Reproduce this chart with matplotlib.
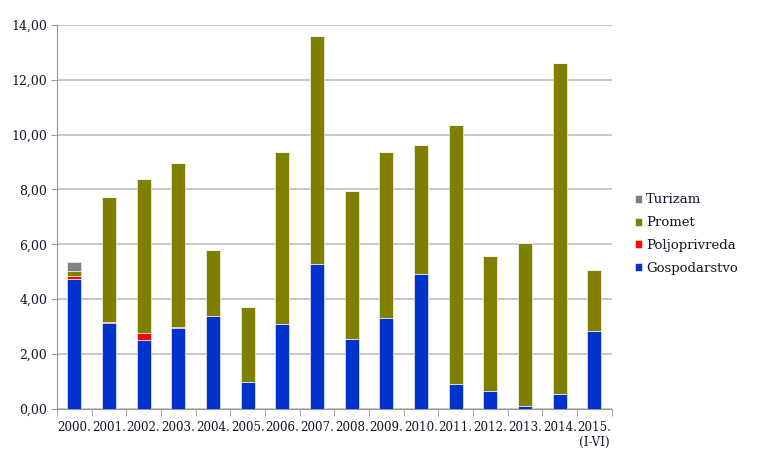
import matplotlib
matplotlib.use("Agg")
import matplotlib.pyplot as plt
import numpy as np

years = ["2000.", "2001.", "2002.", "2003.", "2004.", "2005.", "2006.", "2007.",
         "2008.", "2009.", "2010.", "2011.", "2012.", "2013.", "2014.", "2015.\n(I-VI)"]
gospodarstvo = [4.74, 3.13, 2.50, 2.95, 3.37, 0.99, 3.11, 5.27,
                2.54, 3.33, 4.92, 0.90, 0.67, 0.11, 0.53, 2.84]
poljoprivreda = [0.11, 0.03, 0.27, 0.05, 0.0, 0.0, 0.0, 0.0,
                 0.0, 0.0, 0.0, 0.0, 0.0, 0.0, 0.0, 0.0]
promet = [0.19, 4.55, 5.61, 5.98, 2.42, 2.71, 6.25, 8.34,
          5.39, 6.05, 4.70, 9.45, 4.91, 5.94, 12.07, 2.23]
turizam = [0.32, 0, 0, 0, 0, 0, 0, 0, 0, 0, 0, 0, 0, 0, 0, 0]

series = [
    ("Gospodarstvo", gospodarstvo, "#0033cc"),
    ("Poljoprivreda", poljoprivreda, "#ff0000"),
    ("Promet", promet, "#808000"),
    ("Turizam", turizam, "#808080"),
]

plt.rcParams["font.family"] = ["DejaVu Serif"]
fig = plt.figure(figsize=(7.59, 4.61), dpi=100)
ax = fig.add_axes([0.075, 0.113, 0.731, 0.833])

x = np.arange(len(years))
bottom = np.zeros(len(years))
handles = []
for name, vals, col in series:
    vals = np.array(vals)
    b = ax.bar(x, vals, 0.4, bottom=bottom, color=col, edgecolor="#ffffff",
               linewidth=0.4, label=name, zorder=3)
    handles.append(b)
    bottom += vals

ax.set_xlim(-0.5, len(years) - 0.5)
ax.set_ylim(0, 14)
ax.set_yticks(np.arange(0, 15, 2))
ax.set_yticklabels([f"{v:.2f}".replace(".", ",") for v in np.arange(0, 15, 2)],
                   fontsize=9, color="#141428")
ax.yaxis.grid(True, color="#bfbfbf", linewidth=1.2, zorder=0)

ax.set_xticks(x)
ax.set_xticklabels(years, fontsize=8.6, color="#141428")
ax.tick_params(axis="x", length=0, pad=9)
ax.set_xticks(np.arange(-0.5, len(years), 1), minor=True)
ax.tick_params(axis="x", which="minor", length=5, color="#999999")
ax.tick_params(axis="y", length=4, color="#999999", pad=3)

for s in ["top", "right"]:
    ax.spines[s].set_visible(False)
ax.spines["left"].set_color("#999999")
ax.spines["bottom"].set_color("#999999")

leg = ax.legend(handles[::-1], [s[0] for s in series][::-1],
                loc="center left", bbox_to_anchor=(1.02, 0.455), frameon=False,
                fontsize=9.5, handlelength=0.55, handleheight=0.55,
                handletextpad=0.3, labelspacing=0.75)
for t in leg.get_texts():
    t.set_color("#141428")

fig.savefig("out.png", dpi=100)
